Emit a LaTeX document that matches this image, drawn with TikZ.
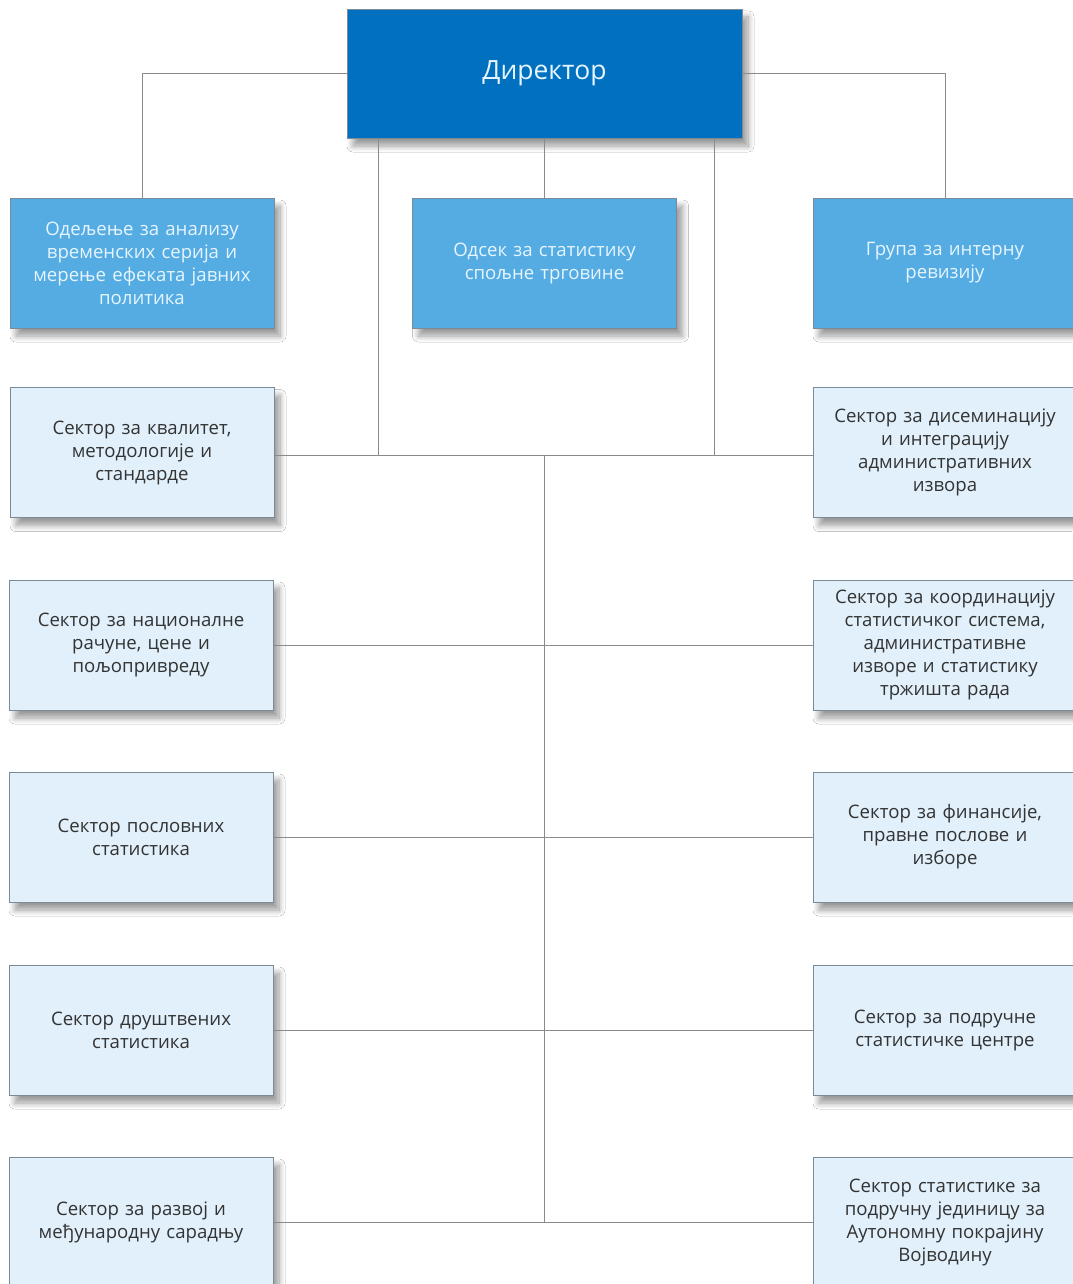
\documentclass[tikz,border=0pt]{standalone}
\usepackage{fontspec}
\setmainfont{Open Sans}
\usetikzlibrary{shadows.blur}
\definecolor{dirblue}{HTML}{0070BF}
\definecolor{midblue}{HTML}{55ACE3}
\definecolor{lightbox}{HTML}{E1F0FA}
\definecolor{boxline}{HTML}{7A8A96}
\definecolor{conn}{HTML}{8A8A8A}
\definecolor{darktext}{HTML}{333333}
\definecolor{lighttext}{HTML}{E6F5FF}
\tikzset{
  base/.style={draw=boxline, line width=0.8pt, minimum width=264pt, minimum height=130pt,
    inner sep=0pt, align=center, text width=256pt,
    blur shadow={shadow xshift=6pt, shadow yshift=-8pt, shadow blur steps=10, shadow blur radius=6pt, shadow opacity=40},
    font=\fontsize{18.6}{23}\selectfont},
  dirbox/.style={base, fill=dirblue, text=lighttext, minimum width=395pt, minimum height=129pt,
    text width=360pt, font=\fontsize{26.5}{30}\selectfont},
  bluebox/.style={base, fill=midblue, text=lighttext},
  lightnode/.style={base, fill=lightbox, text=darktext},
  link/.style={draw=conn, line width=0.9pt}
}
\begin{document}
\begin{tikzpicture}[x=1pt,y=-1pt]
\useasboundingbox[fill=white] (0,0) rectangle (1072,1284);
% nodes
\node[dirbox] (D) at (544.5,73.5) {Директор};
\node[bluebox] (L0) at (142,263) {Одељење за анализу\\временских серија и\\мерење ефеката јавних\\политика};
\node[bluebox] (M0) at (544.5,263) {Одсек за статистику\\спољне трговине};
\node[bluebox] (R0) at (945,263) {Група за интерну\\ревизију};

\node[lightnode] (L1) at (142,452.5) {Сектор за квалитет,\\методологије и\\стандарде};
\node[lightnode] (L2) at (141,645) {Сектор за националне\\рачуне, цене и\\пољопривреду};
\node[lightnode] (L3) at (141,837) {Сектор пословних\\статистика};
\node[lightnode] (L4) at (141,1030) {Сектор друштвених\\статистика};
\node[lightnode] (L5) at (141,1222) {Сектор за развој и\\међународну сарадњу};

\node[lightnode] (R1) at (945,452.5) {Сектор за дисеминацију\\и интеграцију\\административних\\извора};
\node[lightnode] (R2) at (945,645) {Сектор за координацију\\статистичког система,\\административне\\изворе и статистику\\тржишта рада};
\node[lightnode] (R3) at (945,837) {Сектор за финансије,\\правне послове и\\изборе};
\node[lightnode] (R4) at (945,1030) {Сектор за подручне\\статистичке центре};
\node[lightnode] (R5) at (945,1222) {Сектор статистике за\\подручну јединицу за\\Аутономну покрајину\\Војводину};

\coordinate (jl) at (378,455);
\coordinate (jr) at (714,455);
\coordinate (spt) at (544.5,455);
\coordinate (spb) at (544.5,1222);

% connectors
\draw[link] (D.west) -| (L0.north);
\draw[link] (D.east) -| (R0.north);
\draw[link] (D.south) -- (M0.north);
\draw[link] (D.south -| jl) -- (jl);
\draw[link] (D.south -| jr) -- (jr);
\draw[link] (L1.east |- spt) -- (R1.west |- spt);
\draw[link] (spt) -- (spb);
\draw[link] (L2.east) -- (R2.west);
\draw[link] (L3.east) -- (R3.west);
\draw[link] (L4.east) -- (R4.west);
\draw[link] (L5.east) -- (R5.west);
\end{tikzpicture}
\end{document}
